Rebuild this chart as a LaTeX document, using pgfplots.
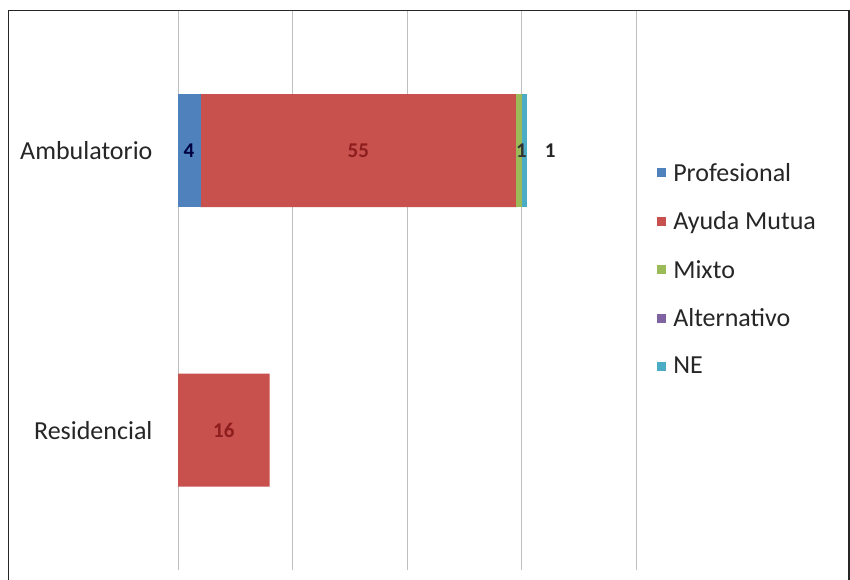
\documentclass[border=0pt]{standalone}
\usepackage{pgfplots}
\pgfplotsset{compat=1.18}
\usepackage{fontspec}
\setmainfont{Carlito}

\definecolor{cProf}{HTML}{4F81BD}
\definecolor{cAyuda}{HTML}{C8504D}
\definecolor{cMixto}{HTML}{9BBB59}
\definecolor{cAlt}{HTML}{8064A2}
\definecolor{cNE}{HTML}{4BACC6}
\definecolor{gridc}{HTML}{BFBFBF}
\definecolor{lblred}{HTML}{8E1E1E}

\tikzset{datalbl/.style={font=\bfseries\fontsize{21}{24}\selectfont}}

\begin{document}
\begin{tikzpicture}[x=1pt,y=1pt]
\useasboundingbox (0,0) rectangle (850,580);
\fill[white] (0,0) rectangle (850,580);
% outer chart frame (bottom edge lies below the page)
\draw[line width=1.6pt, draw=black!85] (8.5,-5) -- (8.5,569.5) -- (849,569.5) -- (849,-5);

\begin{axis}[
  at={(178pt,10pt)}, anchor=south west,
  scale only axis,
  width=458pt, height=559pt,
  xbar stacked,
  bar width=113pt,
  xmin=0, xmax=80,
  ymin=-0.5, ymax=1.5,
  separate axis lines,
  axis x line*=bottom,
  axis y line*=left,
  x axis line style={draw=none},
  y axis line style={draw=gridc, line width=0.8pt},
  xtick={0,20,40,60,80},
  xticklabels={},
  xmajorgrids,
  grid style={draw=gridc, line width=0.8pt},
  ytick={0,1},
  yticklabels={Residencial,Ambulatorio},
  major tick length=0pt,
  yticklabel style={font=\fontsize{26}{30}\selectfont, text=black!85, xshift=-22pt},
  legend style={draw=none, fill=none, at={(1.046,0.538)}, anchor=west,
    font=\fontsize{26}{30}\selectfont, text=black!85,
    row sep=25pt, inner sep=0pt,
    /tikz/every odd column/.append style={column sep=5pt}},
  legend cell align=left,
  legend image code/.code={\fill[#1,draw=none] (0pt,-4.5pt) rectangle (9pt,4.5pt);},
  clip=false,
]
\addplot[fill=cProf, draw=none] coordinates {(4,1) (0,0)};
\addplot[fill=cAyuda, draw=none] coordinates {(55,1) (16,0)};
\addplot[fill=cMixto, draw=none] coordinates {(1,1) (0,0)};
\addplot[fill=cAlt, draw=none] coordinates {(0,1) (0,0)};
\addplot[fill=cNE, draw=none] coordinates {(1,1) (0,0)};
\legend{Profesional, Ayuda Mutua, Mixto, Alternativo, NE}

% anchor points for the data labels
\coordinate (lProf) at (axis cs:1.9,1);
\coordinate (lAyA)  at (axis cs:31.5,1);
\coordinate (lMix)  at (axis cs:60,1);
\coordinate (lNE)   at (axis cs:65,1);
\coordinate (lAyR)  at (axis cs:8,0);
\end{axis}

% data labels, drawn above the bars
\node[datalbl, text=black!75!blue] at (lProf) {4};
\node[datalbl, text=lblred] at (lAyA) {55};
\node[datalbl, text=black!80] at (lMix) {1};
\node[datalbl, text=black!85] at (lNE) {1};
\node[datalbl, text=lblred] at (lAyR) {16};
\end{tikzpicture}
\end{document}
